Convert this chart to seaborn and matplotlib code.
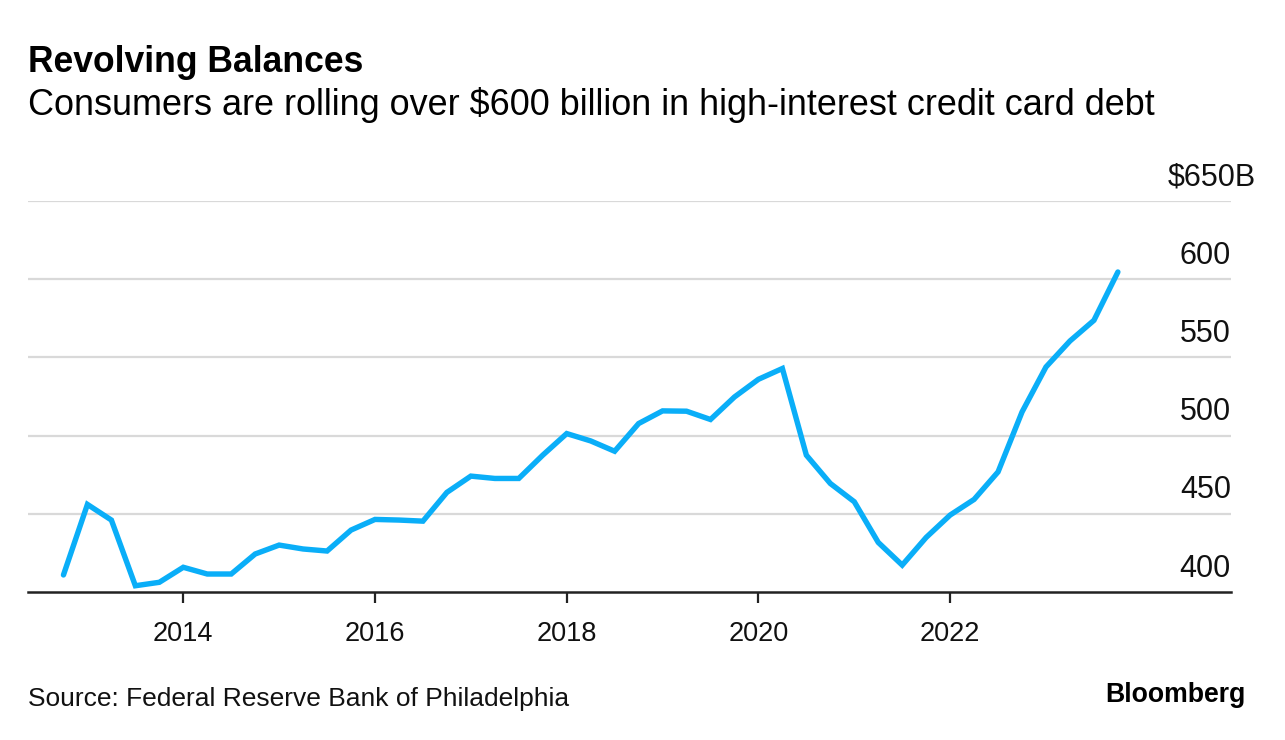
import numpy as np
import pandas as pd
import matplotlib
matplotlib.use('Agg')
import matplotlib.pyplot as plt
import matplotlib.transforms as mtransforms
import seaborn as sns

# DATA (quarterly revolving balances, $B)
quarters = pd.period_range('2012Q4', '2023Q4', freq='Q')
balances = [
    410.9, 456.0, 446.0, 404.0, 406.2, 415.8, 411.5, 411.5, 424.3, 430.0,
    427.5, 426.2, 439.6, 446.4, 446.0, 445.3, 463.7, 474.1, 472.6, 472.6,
    487.5, 501.3, 496.6, 490.0, 507.7, 515.8, 515.6, 510.3, 524.7, 536.0,
    542.9, 487.5, 469.4, 457.7, 431.7, 417.2, 434.9, 449.2, 459.2, 476.8,
    515.1, 543.9, 560.5, 573.7, 604.6,
]
year_ticks = [2014, 2016, 2018, 2020, 2022]
y_ticks = [400, 450, 500, 550, 600, 650]

TITLE = 'Revolving Balances'
SUBTITLE = 'Consumers are rolling over $600 billion in high-interest credit card debt'
SOURCE = 'Source: Federal Reserve Bank of Philadelphia'

LINE_COLOR = '#0AAEF8'
GRID_COLOR = '#d9d9d9'

df = pd.DataFrame({
    'x': [p.year + (p.quarter - 1) / 4 for p in quarters],
    'balance': balances,
})

sns.set_theme(style='white')
plt.rcParams['font.family'] = ['Liberation Sans', 'DejaVu Sans']

fig = plt.figure(figsize=(12.85, 7.40), dpi=100)
ax = fig.add_axes([28 / 1285, 1 - 592 / 740, (1231 - 28) / 1285, (592 - 201) / 740])

for v in y_ticks[1:]:
    ax.axhline(v, color=GRID_COLOR, linewidth=1.6, zorder=0)

sns.lineplot(data=df, x='x', y='balance', ax=ax, color=LINE_COLOR,
             linewidth=3.9, solid_joinstyle='miter', zorder=3)

ax.set_xlim(2012.38, 2024.93)
ax.set_ylim(400, 650)
ax.set_xlabel('')
ax.set_ylabel('')

for side in ['top', 'right', 'left']:
    ax.spines[side].set_visible(False)
ax.spines['bottom'].set_color('#222222')
ax.spines['bottom'].set_linewidth(1.8)

ax.set_xticks(year_ticks)
ax.set_xticklabels([str(y) for y in year_ticks])
ax.tick_params(axis='x', direction='out', length=8, width=1.6, color='#222222',
               pad=13, labelsize=19.5, labelcolor='#111111', bottom=True)
ax.set_yticks([])

# y labels sit above their gridlines, right-aligned at the axis edge;
# the top one carries "$...B" with the B hanging past the edge
ytrans = ax.get_yaxis_transform() + mtransforms.ScaledTranslation(
    0, 6 / 72, fig.dpi_scale_trans)
top_trans = ax.get_yaxis_transform() + mtransforms.ScaledTranslation(
    25 / 100, 6 / 72, fig.dpi_scale_trans)
for v in y_ticks:
    if v == y_ticks[-1]:
        ax.text(1.0, v, f'${v}B', transform=top_trans, ha='right', va='bottom',
                fontsize=22, color='#111111')
    else:
        ax.text(1.0, v, str(v), transform=ytrans, ha='right', va='bottom',
                fontsize=22, color='#111111')

fig.text(28 / 1285, 1 - 62 / 740, TITLE, fontsize=25.6, fontweight='bold',
         va='center', ha='left', color='#000000')
fig.text(28 / 1285, 1 - 105 / 740, SUBTITLE, fontsize=25.9,
         va='center', ha='left', color='#000000')
fig.text(28 / 1285, 1 - 699 / 740, SOURCE, fontsize=19,
         va='center', ha='left', color='#111111')
fig.text(1246 / 1285, 1 - 695 / 740, 'Bloomberg', fontsize=19.2, fontweight='bold',
         va='center', ha='right', color='#000000')

fig.savefig('out.png', dpi=100)
